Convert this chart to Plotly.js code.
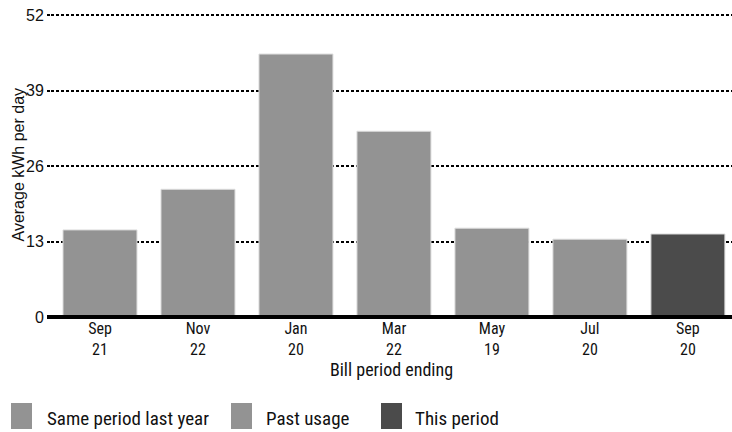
<!DOCTYPE html>
<html>
<head>
<meta charset="utf-8">
<script src="https://cdn.plot.ly/plotly-3.0.1.min.js"></script>
<style>html,body{margin:0;padding:0;background:#fff;}#chart{width:732px;height:432px;}</style>
</head>
<body>
<div id="chart"></div>
<script>
// Data
const categories = ["Sep<br>21", "Nov<br>22", "Jan<br>20", "Mar<br>22", "May<br>19", "Jul<br>20", "Sep<br>20"];
const sameLastYearCats = ["Sep<br>21"];
const sameLastYearVals = [15.0];
const pastUsageCats = ["Nov<br>22", "Jan<br>20", "Mar<br>22", "May<br>19", "Jul<br>20"];
const pastUsageVals = [22.0, 45.3, 32.0, 15.3, 13.4];
const thisPeriodCats = ["Sep<br>20"];
const thisPeriodVals = [14.3];
const yTicks = [0, 13, 26, 39, 52];
const legendLabels = ["Same period last year", "Past usage", "This period"];
const yTitle = "Average kWh per day";
const xTitle = "Bill period ending";

const narrow = "Roboto Condensed";
const normal = "Liberation Sans";
const grey = "#939393", dark = "#4b4b4b";

const M = {l: 51, r: 0, t: 14, b: 115};
const W = 732, H = 432;
const pw = W - M.l - M.r, ph = H - M.t - M.b;
const px = x => (x - M.l) / pw;
const py = y => (H - M.b - y) / ph;

const barLine = {color: "#dcdcdc", width: 1};
const traces = [
  {type: "bar", name: legendLabels[0], x: sameLastYearCats, y: sameLastYearVals, marker: {color: grey, line: barLine}, showlegend: false},
  {type: "bar", name: legendLabels[1], x: pastUsageCats, y: pastUsageVals, marker: {color: grey, line: barLine}, showlegend: false},
  {type: "bar", name: legendLabels[2], x: thisPeriodCats, y: thisPeriodVals, marker: {color: dark, line: barLine}, showlegend: false}
];

const legendColors = [grey, grey, dark];
const legendSquareX = [11, 231, 381];
const legendTextX = [47, 266, 415];
const shapes = [
  // heavy baseline extending slightly left of the plot area (paper refs so it is not clipped)
  {type: "line", xref: "paper", yref: "paper", x0: px(47), x1: 1, y0: 0, y1: 0, line: {color: "#000", width: 4}}
];
const annotations = [
  {xref: "paper", yref: "paper", x: px(18), y: py(164.5), xanchor: "center", yanchor: "middle",
   textangle: -90, showarrow: false, text: yTitle, font: {family: normal, size: 16, color: "#111"}}
];
legendLabels.forEach((lab, i) => {
  shapes.push({type: "rect", xref: "paper", yref: "paper",
    x0: px(legendSquareX[i]), x1: px(legendSquareX[i] + 21),
    y0: py(403), y1: py(429), fillcolor: legendColors[i], line: {width: 0}});
  annotations.push({xref: "paper", yref: "paper", x: px(legendTextX[i] - 2), y: py(418),
    xanchor: "left", yanchor: "middle", showarrow: false, text: lab,
    font: {family: narrow, size: 19, color: "#111"}});
});

const layout = {
  width: W, height: H,
  margin: M,
  paper_bgcolor: "#fff", plot_bgcolor: "#fff",
  barmode: "overlay",
  bargap: 0.245,
  showlegend: false,
  xaxis: {
    type: "category",
    categoryorder: "array", categoryarray: categories,
    range: [-0.5, 6.45],
    showgrid: false, zeroline: false,
    showline: false,
    ticks: "",
    tickfont: {family: narrow, size: 16, color: "#111"},
    title: {text: xTitle, font: {family: narrow, size: 18, color: "#111"}, standoff: 0},
    fixedrange: true
  },
  yaxis: {
    range: [0, 52.2],
    tickvals: yTicks,
    ticktext: yTicks.map(String),
    showgrid: true, gridcolor: "#000", gridwidth: 2, griddash: "3px,2px",
    zeroline: false,
    ticks: "outside", ticklen: 3, tickwidth: 2, tickcolor: "#000",
    tickfont: {family: normal, size: 16, color: "#111"},
    fixedrange: true
  },
  shapes: shapes,
  annotations: annotations
};

Plotly.newPlot("chart", traces, layout, {staticPlot: true, displayModeBar: false});
</script>
</body>
</html>
